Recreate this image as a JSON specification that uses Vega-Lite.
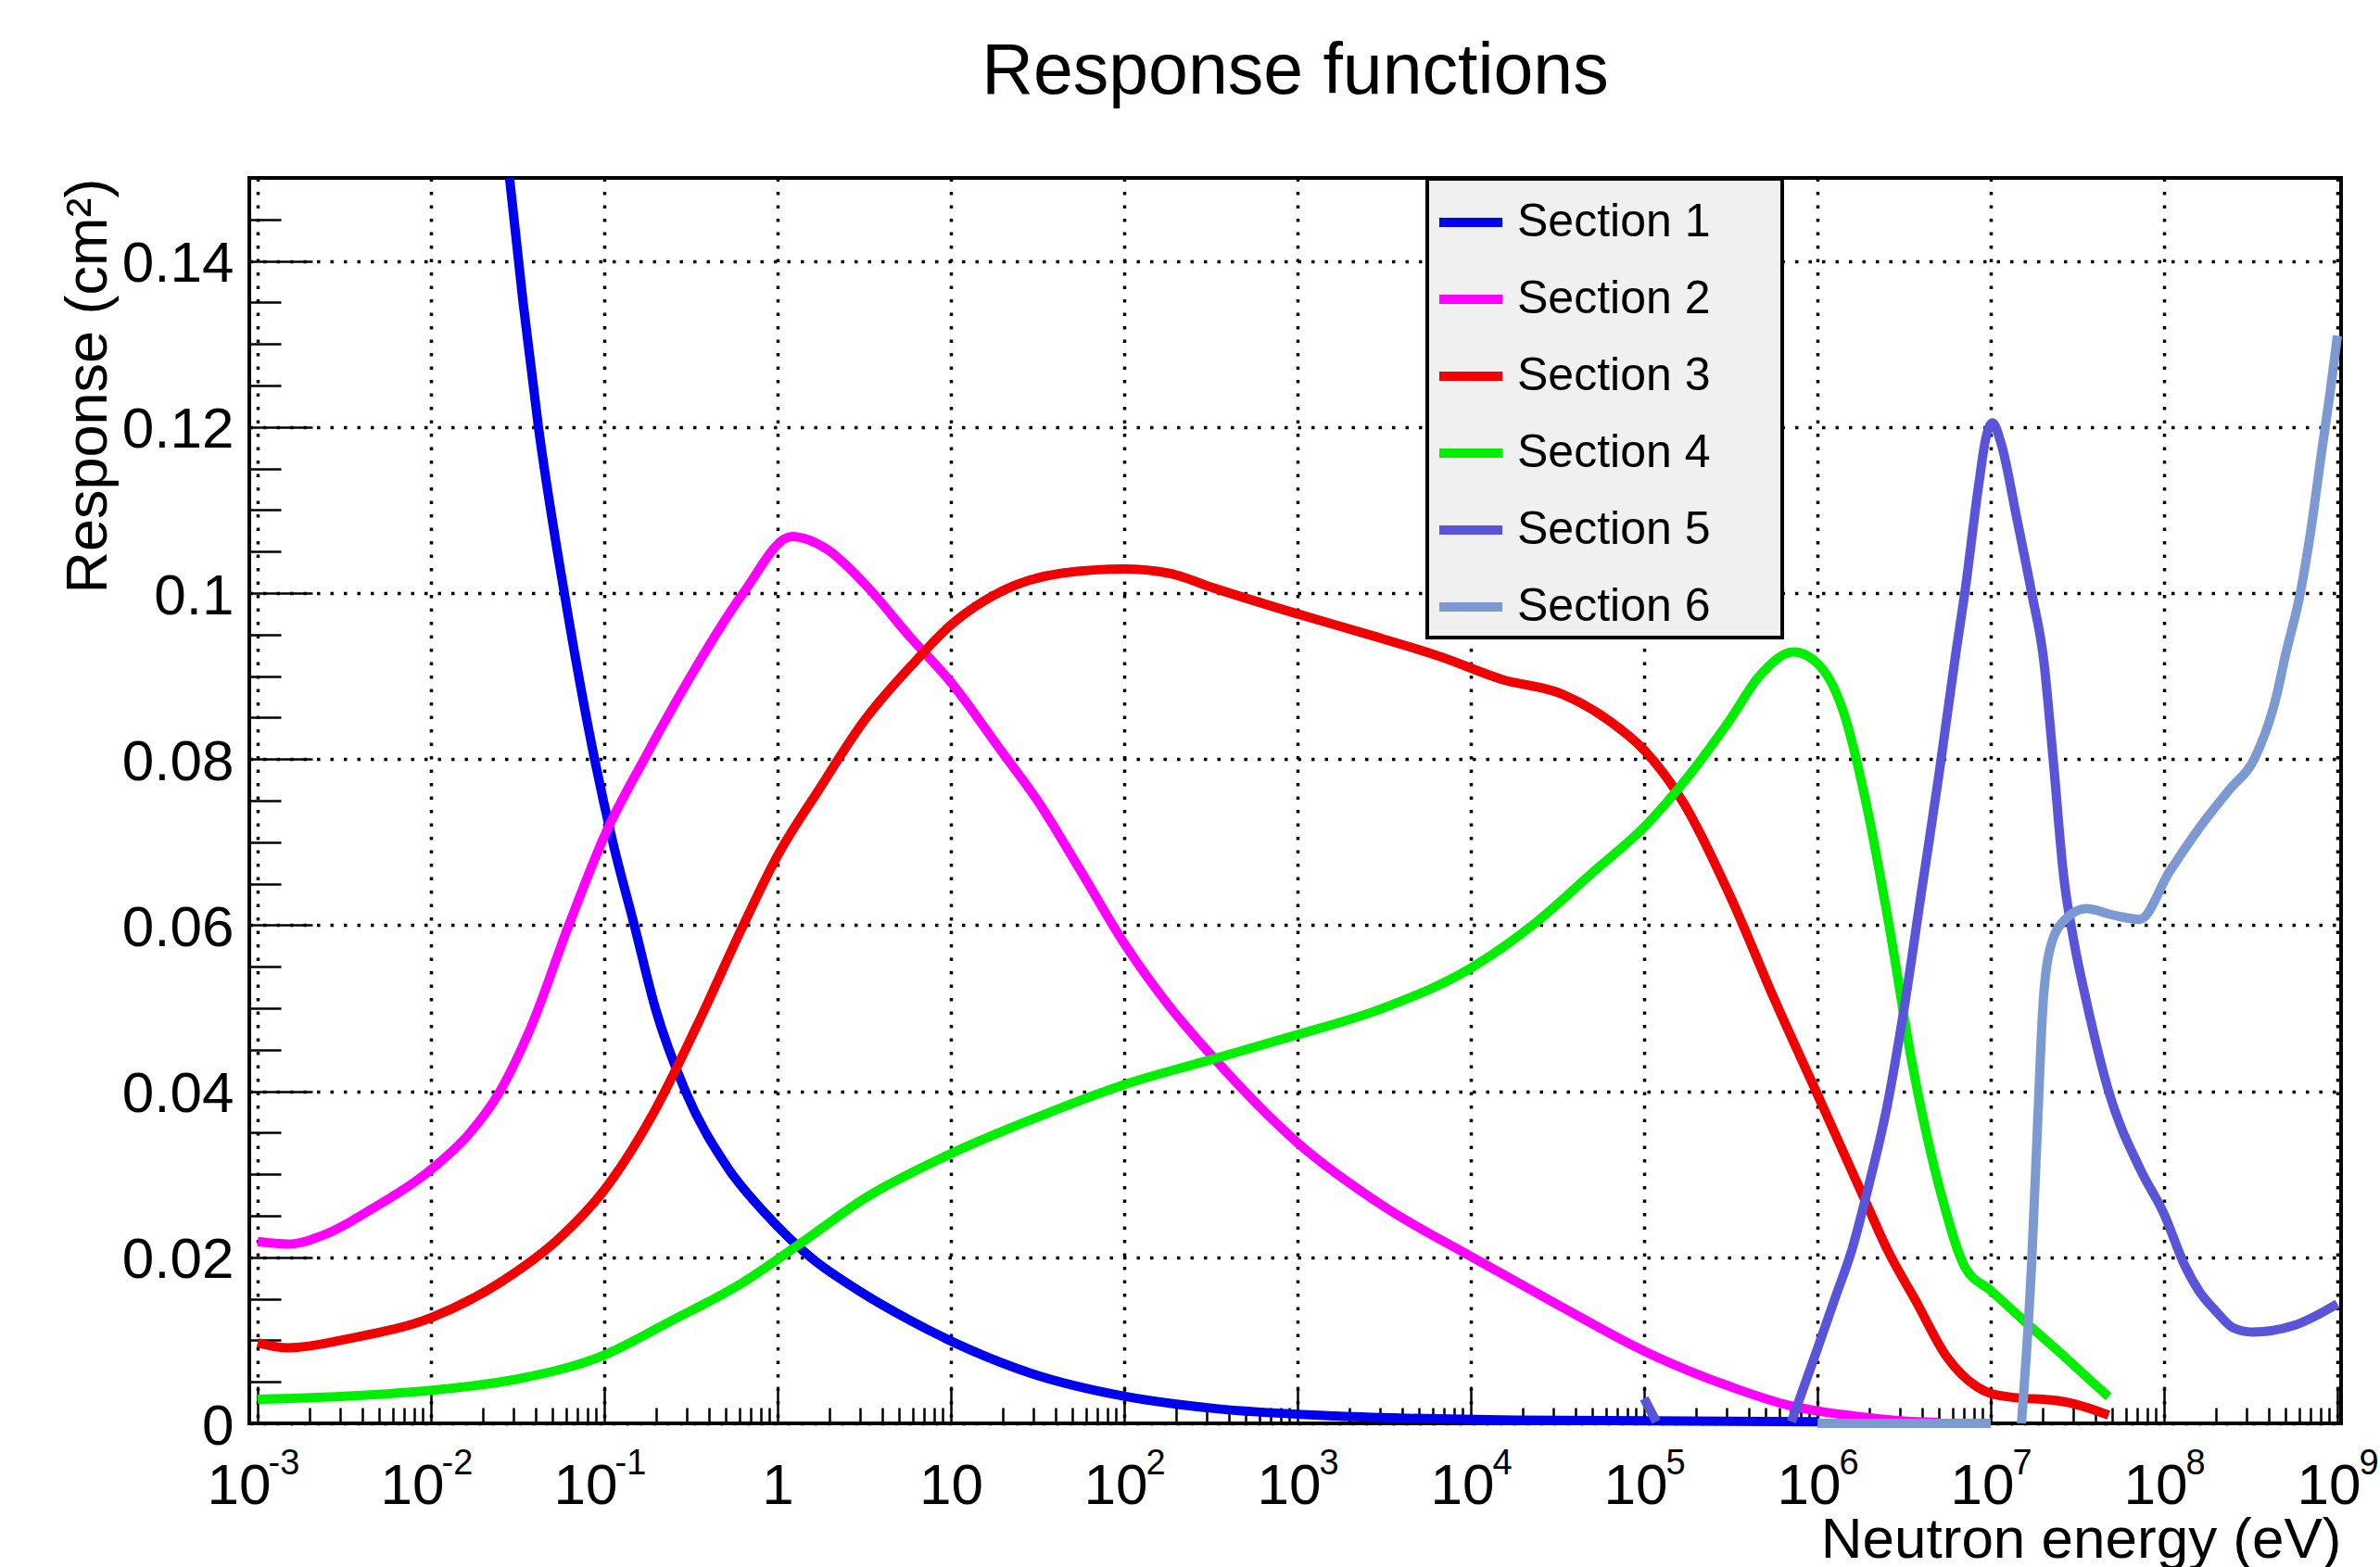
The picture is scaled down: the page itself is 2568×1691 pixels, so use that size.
{
  "$schema": "https://vega.github.io/schema/vega-lite/v6.json",
  "width": 2257,
  "height": 1344,
  "autosize": {"type": "none"},
  "padding": {"left": 269, "top": 192, "right": 42, "bottom": 155},
  "background": "white",
  "config": {
    "font": "Liberation Sans",
    "view": {"stroke": "black", "strokeWidth": 4},
    "axis": {"domain": false, "labelColor": "black", "titleColor": "black", "tickColor": "black", "labelFont": "Liberation Sans", "titleFont": "Liberation Sans", "titleFontWeight": "normal"}
  },
  "title": {"text": "Response functions", "font": "Liberation Sans", "fontSize": 77, "fontWeight": "normal", "color": "black", "anchor": "middle", "frame": "group", "baseline": "alphabetic", "offset": 9},
  "data": {"values": [
    {"section": "Section 1", "E": 0.0284, "R": 0.150},
    {"section": "Section 1", "E": 0.0340, "R": 0.135},
    {"section": "Section 1", "E": 0.0417, "R": 0.120},
    {"section": "Section 1", "E": 0.0588, "R": 0.100},
    {"section": "Section 1", "E": 0.0879, "R": 0.080},
    {"section": "Section 1", "E": 0.112, "R": 0.070},
    {"section": "Section 1", "E": 0.149, "R": 0.060},
    {"section": "Section 1", "E": 0.197, "R": 0.050},
    {"section": "Section 1", "E": 0.294, "R": 0.040},
    {"section": "Section 1", "E": 0.519, "R": 0.0307},
    {"section": "Section 1", "E": 0.857, "R": 0.0252},
    {"section": "Section 1", "E": 1.57, "R": 0.0199},
    {"section": "Section 1", "E": 2.88, "R": 0.0161},
    {"section": "Section 1", "E": 5.82, "R": 0.0124},
    {"section": "Section 1", "E": 13.1, "R": 0.0088},
    {"section": "Section 1", "E": 29.2, "R": 0.0060},
    {"section": "Section 1", "E": 98, "R": 0.0033},
    {"section": "Section 1", "E": 329, "R": 0.0018},
    {"section": "Section 1", "E": 1650, "R": 0.0009},
    {"section": "Section 1", "E": 18500, "R": 0.0004},
    {"section": "Section 1", "E": 1000000, "R": 0.0002},

    {"section": "Section 2", "E": 0.001, "R": 0.0219},
    {"section": "Section 2", "E": 0.0015, "R": 0.0216},
    {"section": "Section 2", "E": 0.00248, "R": 0.0228},
    {"section": "Section 2", "E": 0.00454, "R": 0.0258},
    {"section": "Section 2", "E": 0.0102, "R": 0.0307},
    {"section": "Section 2", "E": 0.0168, "R": 0.0350},
    {"section": "Section 2", "E": 0.0242, "R": 0.0395},
    {"section": "Section 2", "E": 0.0377, "R": 0.0477},
    {"section": "Section 2", "E": 0.0624, "R": 0.0600},
    {"section": "Section 2", "E": 0.103, "R": 0.0713},
    {"section": "Section 2", "E": 0.171, "R": 0.0801},
    {"section": "Section 2", "E": 0.283, "R": 0.0883},
    {"section": "Section 2", "E": 0.634, "R": 0.1000},
    {"section": "Section 2", "E": 1.21, "R": 0.1068},
    {"section": "Section 2", "E": 1.92, "R": 0.1053},
    {"section": "Section 2", "E": 3.18, "R": 0.1011},
    {"section": "Section 2", "E": 5.82, "R": 0.0947},
    {"section": "Section 2", "E": 10.05, "R": 0.0892},
    {"section": "Section 2", "E": 19.5, "R": 0.0810},
    {"section": "Section 2", "E": 31.6, "R": 0.0750},
    {"section": "Section 2", "E": 56.2, "R": 0.0665},
    {"section": "Section 2", "E": 100, "R": 0.0578},
    {"section": "Section 2", "E": 178, "R": 0.0505},
    {"section": "Section 2", "E": 316, "R": 0.0444},
    {"section": "Section 2", "E": 1000, "R": 0.0338},
    {"section": "Section 2", "E": 3162, "R": 0.0261},
    {"section": "Section 2", "E": 10000, "R": 0.0201},
    {"section": "Section 2", "E": 31620, "R": 0.0143},
    {"section": "Section 2", "E": 100000, "R": 0.0087},
    {"section": "Section 2", "E": 316200, "R": 0.0044},
    {"section": "Section 2", "E": 708000, "R": 0.0021},
    {"section": "Section 2", "E": 1000000, "R": 0.0015},
    {"section": "Section 2", "E": 1620000, "R": 0.0009},
    {"section": "Section 2", "E": 3000000, "R": 0.0003},
    {"section": "Section 2", "E": 5000000, "R": 0.0001},

    {"section": "Section 3", "E": 0.001, "R": 0.0097},
    {"section": "Section 3", "E": 0.0015, "R": 0.0091},
    {"section": "Section 3", "E": 0.00335, "R": 0.0102},
    {"section": "Section 3", "E": 0.0102, "R": 0.0128},
    {"section": "Section 3", "E": 0.0252, "R": 0.0170},
    {"section": "Section 3", "E": 0.0564, "R": 0.0225},
    {"section": "Section 3", "E": 0.0991, "R": 0.0280},
    {"section": "Section 3", "E": 0.189, "R": 0.0371},
    {"section": "Section 3", "E": 0.346, "R": 0.0481},
    {"section": "Section 3", "E": 0.634, "R": 0.0600},
    {"section": "Section 3", "E": 0.989, "R": 0.0682},
    {"section": "Section 3", "E": 1.74, "R": 0.0764},
    {"section": "Section 3", "E": 3.18, "R": 0.0847},
    {"section": "Section 3", "E": 5.82, "R": 0.0911},
    {"section": "Section 3", "E": 10.05, "R": 0.0962},
    {"section": "Section 3", "E": 19.5, "R": 0.1002},
    {"section": "Section 3", "E": 43.8, "R": 0.1024},
    {"section": "Section 3", "E": 100, "R": 0.1029},
    {"section": "Section 3", "E": 180, "R": 0.1024},
    {"section": "Section 3", "E": 329, "R": 0.1006},
    {"section": "Section 3", "E": 995, "R": 0.0975},
    {"section": "Section 3", "E": 2470, "R": 0.0951},
    {"section": "Section 3", "E": 6760, "R": 0.0923},
    {"section": "Section 3", "E": 15140, "R": 0.0896},
    {"section": "Section 3", "E": 33960, "R": 0.0878},
    {"section": "Section 3", "E": 62100, "R": 0.0847},
    {"section": "Section 3", "E": 100900, "R": 0.0810},
    {"section": "Section 3", "E": 170200, "R": 0.0746},
    {"section": "Section 3", "E": 311900, "R": 0.0636},
    {"section": "Section 3", "E": 571500, "R": 0.0508},
    {"section": "Section 3", "E": 1005000, "R": 0.0395},
    {"section": "Section 3", "E": 1914000, "R": 0.0265},
    {"section": "Section 3", "E": 2547000, "R": 0.0208},
    {"section": "Section 3", "E": 3681000, "R": 0.0148},
    {"section": "Section 3", "E": 5534000, "R": 0.0081},
    {"section": "Section 3", "E": 8318000, "R": 0.0044},
    {"section": "Section 3", "E": 10000000, "R": 0.0036},
    {"section": "Section 3", "E": 15490000, "R": 0.0030},
    {"section": "Section 3", "E": 19950000, "R": 0.0029},
    {"section": "Section 3", "E": 28180000, "R": 0.0025},
    {"section": "Section 3", "E": 39810000, "R": 0.0016},
    {"section": "Section 3", "E": 47860000, "R": 0.0010},

    {"section": "Section 4", "E": 0.001, "R": 0.0029},
    {"section": "Section 4", "E": 0.00335, "R": 0.0033},
    {"section": "Section 4", "E": 0.0102, "R": 0.0040},
    {"section": "Section 4", "E": 0.0308, "R": 0.0053},
    {"section": "Section 4", "E": 0.0991, "R": 0.0082},
    {"section": "Section 4", "E": 0.231, "R": 0.0121},
    {"section": "Section 4", "E": 0.634, "R": 0.0170},
    {"section": "Section 4", "E": 1.34, "R": 0.0216},
    {"section": "Section 4", "E": 3.18, "R": 0.0271},
    {"section": "Section 4", "E": 10.05, "R": 0.0325},
    {"section": "Section 4", "E": 29.2, "R": 0.0366},
    {"section": "Section 4", "E": 100, "R": 0.0408},
    {"section": "Section 4", "E": 329, "R": 0.0439},
    {"section": "Section 4", "E": 995, "R": 0.0468},
    {"section": "Section 4", "E": 3020, "R": 0.0499},
    {"section": "Section 4", "E": 10120, "R": 0.0549},
    {"section": "Section 4", "E": 22700, "R": 0.0600},
    {"section": "Section 4", "E": 50800, "R": 0.0664},
    {"section": "Section 4", "E": 100900, "R": 0.0719},
    {"section": "Section 4", "E": 170200, "R": 0.0773},
    {"section": "Section 4", "E": 311900, "R": 0.0847},
    {"section": "Section 4", "E": 466700, "R": 0.0901},
    {"section": "Section 4", "E": 727800, "R": 0.0929},
    {"section": "Section 4", "E": 1045000, "R": 0.0911},
    {"section": "Section 4", "E": 1416000, "R": 0.0856},
    {"section": "Section 4", "E": 1914000, "R": 0.0746},
    {"section": "Section 4", "E": 2588000, "R": 0.0600},
    {"section": "Section 4", "E": 3508000, "R": 0.0435},
    {"section": "Section 4", "E": 5248000, "R": 0.0271},
    {"section": "Section 4", "E": 7096000, "R": 0.0188},
    {"section": "Section 4", "E": 10000000, "R": 0.0160},
    {"section": "Section 4", "E": 15850000, "R": 0.0122},
    {"section": "Section 4", "E": 25120000, "R": 0.0085},
    {"section": "Section 4", "E": 39810000, "R": 0.0047},
    {"section": "Section 4", "E": 47860000, "R": 0.0032},

    {"section": "Section 5", "E": 100000, "R": 0.0030},
    {"section": "Section 5", "E": 117500, "R": 0.0002},
    {"section": "Section 5", "E": 316000, "R": null},
    {"section": "Section 5", "E": 708000, "R": 0.0002},
    {"section": "Section 5", "E": 1000000, "R": 0.0090},
    {"section": "Section 5", "E": 1259000, "R": 0.0150},
    {"section": "Section 5", "E": 1585000, "R": 0.0210},
    {"section": "Section 5", "E": 1995000, "R": 0.0290},
    {"section": "Section 5", "E": 2512000, "R": 0.0380},
    {"section": "Section 5", "E": 3162000, "R": 0.0500},
    {"section": "Section 5", "E": 3981000, "R": 0.0640},
    {"section": "Section 5", "E": 5012000, "R": 0.0780},
    {"section": "Section 5", "E": 6310000, "R": 0.0930},
    {"section": "Section 5", "E": 7079000, "R": 0.1000},
    {"section": "Section 5", "E": 8511000, "R": 0.1130},
    {"section": "Section 5", "E": 9333000, "R": 0.1185},
    {"section": "Section 5", "E": 10230000, "R": 0.1205},
    {"section": "Section 5", "E": 11480000, "R": 0.1180},
    {"section": "Section 5", "E": 14130000, "R": 0.1090},
    {"section": "Section 5", "E": 17220000, "R": 0.1000},
    {"section": "Section 5", "E": 20180000, "R": 0.0920},
    {"section": "Section 5", "E": 22910000, "R": 0.0800},
    {"section": "Section 5", "E": 26300000, "R": 0.0660},
    {"section": "Section 5", "E": 30200000, "R": 0.0580},
    {"section": "Section 5", "E": 35480000, "R": 0.0510},
    {"section": "Section 5", "E": 47860000, "R": 0.0400},
    {"section": "Section 5", "E": 72440000, "R": 0.0307},
    {"section": "Section 5", "E": 100000000, "R": 0.0252},
    {"section": "Section 5", "E": 131800000, "R": 0.0190},
    {"section": "Section 5", "E": 158500000, "R": 0.0160},
    {"section": "Section 5", "E": 199500000, "R": 0.0135},
    {"section": "Section 5", "E": 251200000, "R": 0.0115},
    {"section": "Section 5", "E": 323600000, "R": 0.0110},
    {"section": "Section 5", "E": 562300000, "R": 0.0118},
    {"section": "Section 5", "E": 1000000000, "R": 0.0144},

    {"section": "Section 6", "E": 1000000, "R": 0},
    {"section": "Section 6", "E": 10000000, "R": 0},
    {"section": "Section 6", "E": 12300000, "R": null},
    {"section": "Section 6", "E": 15030000, "R": 0},
    {"section": "Section 6", "E": 17180000, "R": 0.0190},
    {"section": "Section 6", "E": 18620000, "R": 0.0360},
    {"section": "Section 6", "E": 19950000, "R": 0.0500},
    {"section": "Section 6", "E": 21880000, "R": 0.0570},
    {"section": "Section 6", "E": 26300000, "R": 0.0605},
    {"section": "Section 6", "E": 35480000, "R": 0.0620},
    {"section": "Section 6", "E": 51290000, "R": 0.0612},
    {"section": "Section 6", "E": 72440000, "R": 0.0607},
    {"section": "Section 6", "E": 107200000, "R": 0.0664},
    {"section": "Section 6", "E": 162200000, "R": 0.0719},
    {"section": "Section 6", "E": 239900000, "R": 0.0764},
    {"section": "Section 6", "E": 331100000, "R": 0.0800},
    {"section": "Section 6", "E": 442600000, "R": 0.0874},
    {"section": "Section 6", "E": 501200000, "R": 0.0925},
    {"section": "Section 6", "E": 610900000, "R": 0.1000},
    {"section": "Section 6", "E": 707900000, "R": 0.1080},
    {"section": "Section 6", "E": 811000000, "R": 0.1170},
    {"section": "Section 6", "E": 905700000, "R": 0.1240},
    {"section": "Section 6", "E": 1000000000, "R": 0.1310}
  ]},
  "resolve": {"axis": {"x": "independent", "y": "independent"}},
  "layer": [
    {
      "mark": {"type": "line", "strokeWidth": 10, "interpolate": "monotone", "strokeJoin": "round"},
      "encoding": {
        "x": {"field": "E", "type": "quantitative",
          "scale": {"type": "log", "domain": [0.000895, 1050000000], "nice": false},
          "axis": {"orient": "bottom", "values": [0.001, 0.01, 0.1, 1, 10, 100, 1000, 10000, 100000, 1000000, 10000000, 100000000, 1000000000],
            "ticks": false, "grid": true, "gridColor": "black", "gridDash": [3.5, 11], "gridWidth": 3.5, "gridOpacity": 1,
            "labelFontSize": 62, "labelPadding": 86, "labelBaseline": "alphabetic", "labelFlush": false, "labelOverlap": false,
            "labelExpr": "datum.value == 1 ? '1' : '10'",
            "labelAlign": {"condition": {"test": "datum.value == 1 || datum.value == 10", "value": "center"}, "value": "right"},
            "labelOffset": {"condition": [{"test": "datum.value == 1 || datum.value == 10", "value": 0}, {"test": "datum.value < 1", "value": 14}], "value": 25},
            "title": "Neutron energy (eV)", "titleFontSize": 62, "titleX": 2257, "titleY": 144, "titleAlign": "right", "titleBaseline": "alphabetic", "titleAnchor": "end"
          }},
        "y": {"field": "R", "type": "quantitative",
          "scale": {"domain": [0, 0.15], "nice": false, "zero": false},
          "axis": {"orient": "left", "values": [0, 0.02, 0.04, 0.06, 0.08, 0.1, 0.12, 0.14],
            "ticks": false, "grid": true, "gridColor": "black", "gridDash": [3.5, 11], "gridWidth": 3.5, "gridOpacity": 1,
            "format": "~g", "labelFontSize": 62, "labelPadding": 17, "labelBaseline": "alphabetic", "labelOffset": 22, "labelFlush": false, "labelOverlap": false,
            "title": "Response (cm²)", "titleFontSize": 63, "titleAngle": -90, "titleX": -155, "titleY": 0, "titleAlign": "right", "titleBaseline": "alphabetic", "titleAnchor": "end"
          }},
        "color": {"field": "section", "type": "nominal",
          "scale": {"domain": ["Section 1", "Section 2", "Section 3", "Section 4", "Section 5", "Section 6"],
                    "range": ["#0000ee", "#ff00ff", "#f00000", "#00ee00", "#5954d8", "#7d99d1"]},
          "legend": {"orient": "none", "legendX": 1271, "legendY": 1, "title": null,
            "symbolType": "stroke", "symbolSize": 4624, "symbolStrokeWidth": 10,
            "labelFontSize": 50, "labelFont": "Liberation Sans", "labelColor": "black", "labelLimit": 1000, "labelOffset": 11,
            "rowPadding": 19, "padding": 8, "fillColor": "#f0f0f0", "strokeColor": "black",
            "labelExpr": "datum.label + '     \u200b'",
            "encode": {"legend": {"update": {"strokeWidth": {"value": 4}}}}
          }}
      }
    },
    {
      "mark": {"type": "point", "opacity": 0},
      "encoding": {
        "x": {"field": "E", "type": "quantitative",
          "scale": {"type": "log", "domain": [0.000895, 1050000000], "nice": false},
          "axis": {"orient": "bottom", "values": [0.001, 0.01, 0.1, 1, 10, 100, 1000, 10000, 100000, 1000000, 10000000, 100000000, 1000000000],
            "labels": false, "grid": false, "ticks": true, "tickSize": -40, "tickWidth": 2.5, "tickColor": "black", "title": null}},
        "y": {"field": "R", "type": "quantitative",
          "scale": {"domain": [0, 0.15], "nice": false, "zero": false},
          "axis": {"orient": "left", "values": [0, 0.02, 0.04, 0.06, 0.08, 0.1, 0.12, 0.14],
            "labels": false, "grid": false, "ticks": true, "tickSize": -68, "tickWidth": 2.5, "tickColor": "black", "title": null}}
      }
    },
    {
      "mark": {"type": "point", "opacity": 0},
      "encoding": {
        "x": {"field": "E", "type": "quantitative",
          "scale": {"type": "log", "domain": [0.000895, 1050000000], "nice": false},
          "axis": {"orient": "bottom", "values": [0.002,0.003,0.004,0.005,0.006,0.007,0.008,0.009,0.02,0.03,0.04,0.05,0.06,0.07,0.08,0.09,0.2,0.3,0.4,0.5,0.6,0.7,0.8,0.9,2,3,4,5,6,7,8,9,20,30,40,50,60,70,80,90,200,300,400,500,600,700,800,900,2000,3000,4000,5000,6000,7000,8000,9000,20000,30000,40000,50000,60000,70000,80000,90000,200000,300000,400000,500000,600000,700000,800000,900000,2000000,3000000,4000000,5000000,6000000,7000000,8000000,9000000,20000000,30000000,40000000,50000000,60000000,70000000,80000000,90000000,200000000,300000000,400000000,500000000,600000000,700000000,800000000,900000000],
            "labels": false, "grid": false, "ticks": true, "tickSize": -17, "tickWidth": 2.5, "tickColor": "black", "title": null}},
        "y": {"field": "R", "type": "quantitative",
          "scale": {"domain": [0, 0.15], "nice": false, "zero": false},
          "axis": {"orient": "left", "values": [0.005,0.01,0.015,0.025,0.03,0.035,0.045,0.05,0.055,0.065,0.07,0.075,0.085,0.09,0.095,0.105,0.11,0.115,0.125,0.13,0.135,0.145],
            "labels": false, "grid": false, "ticks": true, "tickSize": -34, "tickWidth": 2.5, "tickColor": "black", "title": null}}
      }
    },
    {
      "mark": {"type": "point", "opacity": 0},
      "encoding": {
        "x": {"field": "E", "type": "quantitative",
          "scale": {"type": "log", "domain": [0.000895, 1050000000], "nice": false},
          "axis": {"orient": "bottom", "values": [0.001, 0.01, 0.1, 100, 1000, 10000, 100000, 1000000, 10000000, 100000000, 1000000000],
            "ticks": false, "grid": false, "labels": true, "labelFontSize": 38, "labelPadding": 54, "labelBaseline": "alphabetic", "labelAlign": "left",
            "labelFlush": false, "labelOverlap": false,
            "labelExpr": "'' + round(log(datum.value) / LN10)",
            "labelOffset": {"condition": {"test": "datum.value < 1", "value": 11}, "value": 23},
            "title": null
          }},
        "y": {"field": "R", "type": "quantitative",
          "scale": {"domain": [0, 0.15], "nice": false, "zero": false},
          "axis": null}
      }
    }
  ]
}
